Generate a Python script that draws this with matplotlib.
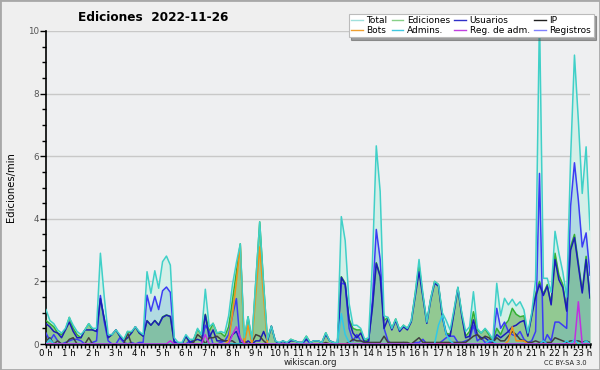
import numpy as np
import matplotlib
matplotlib.use("Agg")
import matplotlib.pyplot as plt
from matplotlib.lines import Line2D
from matplotlib.patches import Rectangle
from matplotlib.ticker import MultipleLocator

plt.rcParams['font.family'] = ['DejaVu Sans']

# edits per minute, 10-minute buckets, 00:00 -> 23:20
total = [
    1.1, 0.75, 0.65, 0.45, 0.35, 0.5,
    0.85, 0.6, 0.4, 0.3, 0.45, 0.65,
    0.5, 0.5, 2.9, 1.5, 0.3, 0.3,
    0.45, 0.3, 0.15, 0.4, 0.4, 0.55,
    0.4, 0.3, 2.31, 1.62, 2.34, 1.78,
    2.63, 2.81, 2.52, 0.2, 0.05, 0.05,
    0.3, 0.15, 0.15, 0.5, 0.3, 1.75,
    0.55, 0.66, 0.35, 0.4, 0.35, 0.9,
    1.9, 2.6, 3.2, 0.2, 0.87, 0.15,
    2.0, 3.9, 1.9, 0.15, 0.57, 0.1,
    0.05, 0.1, 0.05, 0.15, 0.1, 0.05,
    0.05, 0.25, 0.05, 0.1, 0.1, 0.05,
    0.36, 0.1, 0.05, 0.05, 4.07, 3.3,
    1.3, 0.6, 0.6, 0.5, 0.15, 0.2,
    2.6, 6.33, 4.87, 0.9, 0.85, 0.5,
    0.8, 0.45, 0.6, 0.5, 0.75, 1.6,
    2.7, 1.6, 0.7, 1.45, 2.0, 1.9,
    1.0, 0.75, 0.45, 1.1, 1.82, 1.0,
    0.4, 0.55, 1.67, 0.5, 0.35, 0.5,
    0.35, 0.15, 1.94, 0.9, 1.46, 1.25,
    1.43, 1.22, 1.35, 1.09, 0.35, 1.0,
    2.05, 10.5, 2.1, 2.1, 1.65, 3.6,
    2.9, 2.3, 1.5, 5.9, 9.23, 7.15,
    4.81, 6.3, 3.65,
]
ediciones = [
    0.75, 0.65, 0.55, 0.35, 0.3, 0.45,
    0.85, 0.5, 0.3, 0.2, 0.45, 0.65,
    0.45, 0.4, 1.45, 0.8, 0.2, 0.3,
    0.45, 0.25, 0.1, 0.4, 0.35, 0.55,
    0.35, 0.25, 0.75, 0.6, 0.75, 0.62,
    0.87, 0.93, 0.88, 0.05, 0.05, 0.0,
    0.25, 0.05, 0.15, 0.47, 0.3, 0.95,
    0.4, 0.66, 0.35, 0.35, 0.24, 0.55,
    1.4, 2.3, 3.2, 0.1, 0.87, 0.1,
    2.0, 3.9, 1.9, 0.1, 0.57, 0.1,
    0.0, 0.1, 0.0, 0.15, 0.1, 0.05,
    0.05, 0.25, 0.05, 0.1, 0.1, 0.05,
    0.36, 0.1, 0.05, 0.0, 2.15, 1.95,
    0.8, 0.5, 0.45, 0.45, 0.1, 0.15,
    1.2, 2.6, 2.2, 0.75, 0.85, 0.5,
    0.8, 0.45, 0.6, 0.5, 0.72, 1.6,
    2.52, 1.55, 0.7, 1.45, 2.0, 1.9,
    0.9, 0.35, 0.3, 1.05, 1.8, 0.95,
    0.25, 0.4, 1.03, 0.45, 0.35, 0.48,
    0.3, 0.1, 0.5, 0.3, 0.6, 0.75,
    1.14, 0.95, 0.87, 0.9, 0.3, 0.95,
    1.6, 2.0, 1.6, 1.9, 1.3, 2.9,
    2.2, 1.9, 1.1, 3.1, 3.5, 2.6,
    1.7, 2.8, 1.5,
]
usuarios = [
    0.65, 0.55, 0.4, 0.35, 0.2, 0.45,
    0.7, 0.4, 0.2, 0.2, 0.45, 0.45,
    0.45, 0.4, 1.45, 0.8, 0.2, 0.3,
    0.45, 0.25, 0.1, 0.2, 0.35, 0.55,
    0.35, 0.25, 0.74, 0.6, 0.75, 0.6,
    0.85, 0.92, 0.88, 0.05, 0.0, 0.0,
    0.25, 0.05, 0.1, 0.15, 0.1, 0.93,
    0.2, 0.45, 0.1, 0.1, 0.1, 0.1,
    0.3, 0.4, 0.05, 0.0, 0.1, 0.0,
    0.1, 0.1, 0.4, 0.1, 0.57, 0.1,
    0.0, 0.1, 0.0, 0.1, 0.1, 0.05,
    0.05, 0.15, 0.05, 0.1, 0.1, 0.05,
    0.3, 0.1, 0.05, 0.0, 2.13, 1.9,
    0.75, 0.35, 0.2, 0.35, 0.05, 0.1,
    1.15, 2.57, 2.15, 0.5, 0.8, 0.45,
    0.75, 0.4, 0.55, 0.45, 0.71, 1.5,
    2.31, 1.5, 0.66, 1.4, 1.94, 1.85,
    0.87, 0.3, 0.25, 1.0, 1.78, 0.9,
    0.2, 0.25, 0.77, 0.3, 0.2, 0.2,
    0.1, 0.05, 0.3, 0.2, 0.3, 0.4,
    0.55, 0.6, 0.7, 0.75, 0.25, 0.9,
    1.51, 1.9, 1.55, 1.85, 1.25, 2.7,
    2.05, 1.8, 1.05, 3.0, 3.4, 2.5,
    1.63, 2.7, 1.47,
]
registros = [
    0.35, 0.1, 0.3, 0.1, 0.0, 0.05,
    0.1, 0.15, 0.15, 0.1, 0.0, 0.0,
    0.05, 0.1, 1.55, 0.7, 0.1, 0.0,
    0.0, 0.2, 0.05, 0.0, 0.05, 0.0,
    0.05, 0.05, 1.56, 1.05, 1.52, 1.1,
    1.7, 1.82, 1.65, 0.1, 0.0, 0.0,
    0.0, 0.1, 0.0, 0.0, 0.0, 0.6,
    0.4, 0.0, 0.0, 0.05, 0.1, 0.3,
    0.9, 1.45, 0.0, 0.1, 0.0, 0.0,
    0.0, 0.0, 0.0, 0.0, 0.0, 0.0,
    0.05, 0.0, 0.05, 0.0, 0.0, 0.0,
    0.0, 0.15, 0.0, 0.0, 0.0, 0.0,
    0.0, 0.0, 0.0, 0.05, 1.95, 1.9,
    0.5, 0.1, 0.3, 0.1, 0.05, 0.05,
    1.4, 3.66, 2.7, 0.5, 0.1, 0.0,
    0.0, 0.0, 0.05, 0.0, 0.0, 0.05,
    0.05, 0.15, 0.0, 0.0, 0.0, 0.0,
    0.1, 0.2, 0.25, 0.25, 0.05, 0.05,
    0.1, 0.15, 0.6, 0.1, 0.2, 0.05,
    0.05, 0.05, 1.14, 0.5, 0.7, 0.4,
    0.3, 0.25, 0.4, 0.15, 0.05, 0.1,
    0.4, 5.45, 0.0, 0.3, 0.1, 0.7,
    0.7, 0.6, 0.5, 4.4, 5.79, 4.6,
    3.1, 3.55, 2.2,
]
ip = [
    0.1, 0.2, 0.0, 0.1, 0.0, 0.0,
    0.15, 0.2, 0.0, 0.0, 0.0, 0.2,
    0.0, 0.0, 0.0, 0.0, 0.0, 0.0,
    0.0, 0.0, 0.0, 0.35, 0.0, 0.0,
    0.0, 0.0, 0.0, 0.0, 0.0, 0.0,
    0.0, 0.0, 0.0, 0.0, 0.0, 0.0,
    0.0, 0.0, 0.05, 0.3, 0.2, 0.0,
    0.2, 0.2, 0.25, 0.15, 0.1, 0.1,
    0.1, 0.0, 0.0, 0.1, 0.0, 0.05,
    0.3, 0.25, 0.1, 0.0, 0.0, 0.0,
    0.0, 0.0, 0.0, 0.0, 0.0, 0.0,
    0.0, 0.0, 0.0, 0.0, 0.0, 0.0,
    0.05, 0.0, 0.0, 0.0, 0.0, 0.0,
    0.05, 0.15, 0.1, 0.1, 0.05, 0.05,
    0.05, 0.05, 0.05, 0.25, 0.05, 0.05,
    0.05, 0.05, 0.05, 0.05, 0.0, 0.1,
    0.2, 0.05, 0.05, 0.05, 0.05, 0.05,
    0.05, 0.05, 0.05, 0.05, 0.05, 0.05,
    0.05, 0.15, 0.25, 0.3, 0.15, 0.25,
    0.2, 0.05, 0.2, 0.1, 0.1, 0.25,
    0.4, 0.3, 0.15, 0.1, 0.05, 0.05,
    0.1, 0.05, 0.05, 0.05, 0.05, 0.2,
    0.15, 0.1, 0.05, 0.1, 0.1, 0.1,
    0.05, 0.1, 0.05,
]
bots = [0.0] * 47 + [0.1, 0.95, 2.0, 3.15, 0.0, 0.6, 0.0, 1.6, 3.1, 1.5] + [0.0] * 62 \
    + [0.1, 0.55, 0.1, 0.1, 0.1] + [0.0] * 17
admins = [0.0, 0.15] + [0.0] * 74 + [0.97, 0.3, 0.05] + [0.0] * 22 \
    + [0.6, 0.92, 0.3, 0.1] + [0.0] * 9 + [0.1, 0.1] + [0.0] * 12 \
    + [0.1, 0.0, 0.0, 0.0, 0.0, 0.0, 0.1, 0.0, 0.15, 0.0, 0.0, 0.1, 0.0]
reg_adm = [0.0] * 32 + [0.1] + [0.0] * 8 + [0.3] + [0.0] * 6 + [0.3, 0.55, 0.2] + [0.0] * 86 \
    + [1.35, 0.0, 0.0, 0.0]

hour_labels = [f"{h} h" for h in range(24)]

t = np.arange(len(total)) / 6.0

fig = plt.figure(figsize=(6, 3.7), dpi=100, facecolor='#efefef')
fig.add_artist(Rectangle((0, 0), 1, 1, transform=fig.transFigure, fill=False,
                         edgecolor='#a8a8a8', linewidth=2))
ax = fig.add_axes([46 / 600, 26 / 370, 544 / 600, 313 / 370])
ax.set_facecolor('#eeeff1')

# fills
ax.fill_between(t, 0, total, color='#d4efe8', linewidth=0, zorder=1)
ax.fill_between(t, 0, ediciones, color='#92c992', linewidth=0, zorder=2)
ax.fill_between(t, 0, registros, color='#62add7', alpha=0.3, linewidth=0, zorder=3)

# lines
lw = 1.1
ax.plot(t, ediciones, color='#34b034', lw=lw, zorder=4)
ax.plot(t, registros, color='#3c3cf4', lw=lw, zorder=5)
ax.plot(t, usuarios, color='#1c1cb8', lw=lw, zorder=6)
ax.plot(t, ip, color='#404040', lw=lw, zorder=7)
ax.plot(t, bots, color='#f09418', lw=lw, zorder=8)
ax.plot(t, admins, color='#30c8e8', lw=lw, zorder=8)
ax.plot(t, reg_adm, color='#c030e0', lw=lw, zorder=8)
ax.plot(t, total, color='#40d0c8', lw=lw, zorder=9)

ax.set_xlim(0, t[-1])
ax.set_ylim(0, 10)

ax.set_yticks([0, 2, 4, 6, 8, 10])
ax.yaxis.set_minor_locator(MultipleLocator(0.5))
ax.set_xticks(range(24))
ax.set_xticklabels(hour_labels)
ax.xaxis.set_minor_locator(MultipleLocator(1 / 6))
ax.tick_params(axis='x', which='major', length=3, width=1, labelsize=6.2, pad=0.5, colors='black')
ax.tick_params(axis='x', which='minor', length=3, width=1)
ax.tick_params(axis='y', which='major', length=4, width=1, labelsize=6.3, labelcolor='#555555', pad=1)
ax.tick_params(axis='y', which='minor', length=3, width=1)

ax.grid(axis='y', which='major', color='#c8c8c8', linewidth=1, zorder=0)
ax.set_axisbelow(True)
for s in ['top', 'right']:
    ax.spines[s].set_visible(False)
ax.spines['left'].set_linewidth(1.2)
ax.spines['bottom'].set_linewidth(1.8)

ax.set_ylabel("Ediciones/min", fontsize=7.2)
ax.yaxis.set_label_coords(-0.056, 0.5)
fig.text(0.255, 0.952, "Ediciones  2022-11-26", fontsize=8.7, fontweight='bold',
         ha='center', va='center')
fig.text(0.517, 0.02, "wikiscan.org", fontsize=6.2, ha='center', va='center', color='#222222')
fig.text(0.942, 0.02, "CC BY-SA 3.0", fontsize=4.8, ha='center', va='center', color='#222222')

# legend (column-major order so rows read like the original)
names = ['Total', 'Bots', 'Ediciones', 'Admins.', 'Usuarios', 'Reg. de adm.', 'IP', 'Registros']
colors = ['#a0e0dc', '#f0a030', '#88d088', '#40c8e0', '#3030c8', '#c040e0', '#202020', '#8080ff']
handles = [Line2D([0], [0], color=c, lw=1) for c in colors]
leg = ax.legend(handles, names, ncol=4, loc='upper left',
                bbox_to_anchor=(344 / 600, 1 - 9 / 370), bbox_transform=fig.transFigure,
                fontsize=6.5, frameon=True, fancybox=False, shadow=True,
                handlelength=1.3, handletextpad=0.4, columnspacing=0.45,
                labelspacing=0.05, borderpad=0.3)
leg.get_frame().set_edgecolor('#bbbbbb')
leg.get_frame().set_linewidth(0.8)
leg.set_zorder(20)

plt.savefig("out.png", dpi=100, facecolor=fig.get_facecolor())
